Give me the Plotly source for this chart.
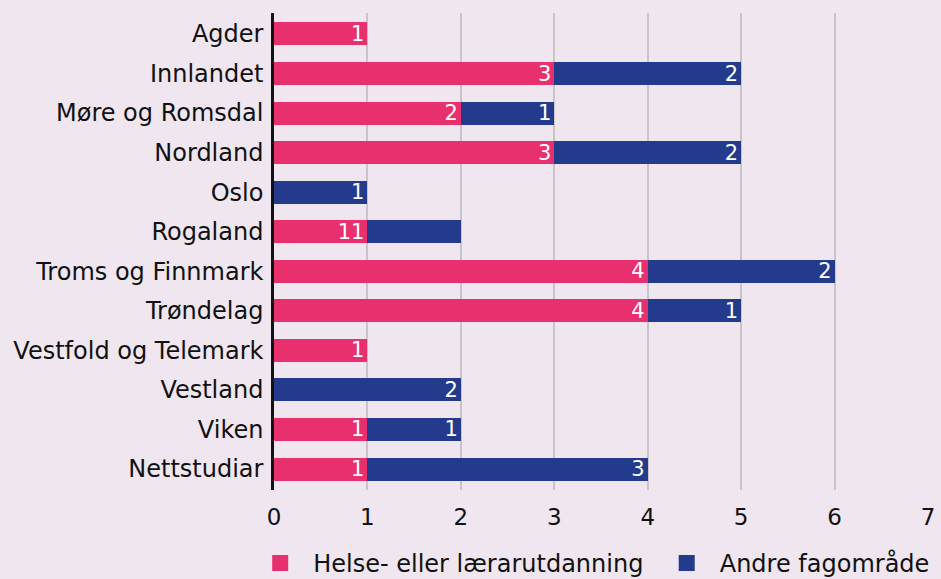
import plotly.graph_objects as go

categories = ["Agder", "Innlandet", "Møre og Romsdal", "Nordland", "Oslo", "Rogaland",
              "Troms og Finnmark", "Trøndelag", "Vestfold og Telemark", "Vestland", "Viken", "Nettstudiar"]
helse = [1, 3, 2, 3, 0, 1, 4, 4, 1, 0, 1, 1]
andre = [0, 2, 1, 2, 1, 1, 2, 1, 0, 2, 1, 3]
# labels as printed in the source chart
helse_labels = ["1", "3", "2", "3", "", "11", "4", "4", "1", "", "1", "1"]
andre_labels = ["", "2", "1", "2", "1", "", "2", "1", "", "2", "1", "3"]
series_names = ["Helse- eller lærarutdanning", "Andre fagområde"]
x_ticks = [0, 1, 2, 3, 4, 5, 6, 7]

PINK = "#E8306F"
NAVY = "#243A8C"
BG = "#EFE6F0"
FONT = "DejaVu Sans"

fig = go.Figure()
for vals, labels, col in [(helse, helse_labels, PINK), (andre, andre_labels, NAVY)]:
    fig.add_trace(go.Bar(
        y=categories, x=vals, orientation="h", marker=dict(color=col, line=dict(width=0)),
        text=labels, textposition="inside", insidetextanchor="end", textangle=0,
        textfont=dict(color="white", size=21, family=FONT),
        showlegend=False, cliponaxis=False, hoverinfo="skip"))
for name, col, lg in zip(series_names, [PINK, NAVY], ["legend", "legend2"]):
    fig.add_trace(go.Scatter(x=[None], y=[None], mode="markers", name=name, legend=lg,
                             marker=dict(symbol="square", size=16, color=col)))

leg_common = dict(orientation="h", xref="container", yref="container", xanchor="left",
                  yanchor="top", y=0.066, itemwidth=56,
                  font=dict(size=24, family=FONT), bgcolor="rgba(0,0,0,0)")

fig.update_layout(
    barmode="stack", bargap=0.42,
    width=941, height=579,
    paper_bgcolor=BG, plot_bgcolor=BG,
    margin=dict(l=274, r=6, t=13, b=89),
    font=dict(family=FONT, color="#111111", size=23),
    uniformtext=dict(minsize=21, mode="show"),
    legend=dict(x=0.2627, **leg_common),
    legend2=dict(x=0.6947, **leg_common),
    xaxis=dict(range=[0, 7], tickvals=x_ticks, showgrid=True, gridcolor="#C8C4C8", gridwidth=1.5,
               zeroline=False, ticks="outside", ticklen=6, tickcolor="rgba(0,0,0,0)",
               ticklabeloverflow="allow", tickfont=dict(size=23), fixedrange=True),
    yaxis=dict(categoryorder="array", categoryarray=categories, autorange=False,
               range=[11.53, -0.53], showline=True, linecolor="#111111", linewidth=2.5,
               ticks="outside", ticklen=3, tickcolor="rgba(0,0,0,0)", tickfont=dict(size=24),
               showgrid=False, fixedrange=True),
)
fig.write_html("out.html", config={"displayModeBar": False},
               post_script="document.body.style.margin='0';document.body.style.overflow='hidden';")
